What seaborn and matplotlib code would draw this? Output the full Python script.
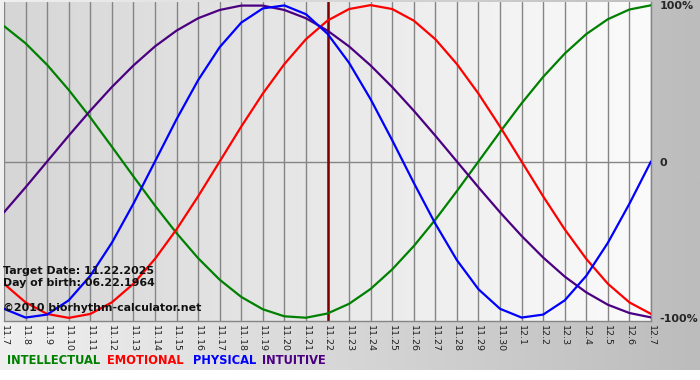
import matplotlib
matplotlib.use("Agg")
import matplotlib.pyplot as plt
from matplotlib.colors import LinearSegmentedColormap
import numpy as np
import pandas as pd
import seaborn as sns

sns.set_style("white")
plt.rcParams["font.family"] = ["DejaVu Sans"]

# day labels, 11.7 .. 12.7
days = ["11.7", "11.8", "11.9", "11.10", "11.11", "11.12", "11.13", "11.14",
        "11.15", "11.16", "11.17", "11.18", "11.19", "11.20", "11.21", "11.22",
        "11.23", "11.24", "11.25", "11.26", "11.27", "11.28", "11.29", "11.30",
        "12.1", "12.2", "12.3", "12.4", "12.5", "12.6", "12.7"]
target_day = "11.22"

# values, one per day
intellectual = [0.866, 0.756, 0.618, 0.458, 0.282, 0.095, -0.095, -0.282,
                -0.458, -0.618, -0.756, -0.866, -0.945, -0.990, -0.999, -0.972,
                -0.910, -0.815, -0.690, -0.541, -0.372, -0.189, 0.0, 0.189,
                0.372, 0.541, 0.690, 0.815, 0.910, 0.972, 0.999]
emotional = [-0.782, -0.901, -0.975, -1.0, -0.975, -0.901, -0.782, -0.623,
             -0.434, -0.223, 0.0, 0.223, 0.434, 0.623, 0.782, 0.901,
             0.975, 1.0, 0.975, 0.901, 0.782, 0.623, 0.434, 0.223,
             0.0, -0.223, -0.434, -0.623, -0.782, -0.901, -0.975]
physical = [-0.942, -0.998, -0.979, -0.888, -0.731, -0.520, -0.270, 0.0,
            0.270, 0.520, 0.731, 0.888, 0.979, 0.998, 0.942, 0.817,
            0.631, 0.398, 0.136, -0.136, -0.398, -0.631, -0.817, -0.942,
            -0.998, -0.979, -0.888, -0.731, -0.520, -0.270, 0.0]
intuitive = [-0.325, -0.165, 0.0, 0.165, 0.325, 0.476, 0.614, 0.736,
             0.837, 0.916, 0.969, 0.997, 0.997, 0.969, 0.916, 0.837,
             0.736, 0.614, 0.476, 0.325, 0.165, 0.0, -0.165, -0.325,
             -0.476, -0.614, -0.736, -0.837, -0.916, -0.969, -0.997]

rhythms = ["INTELLECTUAL", "EMOTIONAL", "INTUITIVE", "PHYSICAL"]
colors = {"INTELLECTUAL": "#008000", "EMOTIONAL": "#ff0000",
          "PHYSICAL": "#0000ff", "INTUITIVE": "#4b0082"}

series = {"INTELLECTUAL": intellectual, "EMOTIONAL": emotional,
          "PHYSICAL": physical, "INTUITIVE": intuitive}
df = pd.concat([
    pd.DataFrame({"pos": range(len(days)), "value": series[r], "rhythm": r})
    for r in rhythms
], ignore_index=True)

fig = plt.figure(figsize=(7, 3.8), dpi=100)

# grey gradient behind everything
bg = fig.add_axes([0, 10 / 380, 1, 370 / 380], zorder=-2)
bg.imshow(np.linspace(0, 1, 256).reshape(1, -1), aspect="auto",
          cmap=LinearSegmentedColormap.from_list("bg", ["#f0f0f0", "#bcbcbc"]))
bg.set_axis_off()

ax = fig.add_axes([4 / 700, 59 / 380, 647 / 700, 319 / 380])
n = len(days) - 1
ax.imshow(np.linspace(0, 1, 256).reshape(1, -1), aspect="auto",
          extent=[0, n, -1.02, 1.02], zorder=0,
          cmap=LinearSegmentedColormap.from_list("pa", ["#d6d6d6", "#fbfbfb"]))

for i in range(len(days)):
    ax.axvline(i, color="#858585", lw=1, zorder=1)
ax.axhline(0, color="#858585", lw=1, zorder=1)
ax.axvline(days.index(target_day), color="#800000", lw=1.8, zorder=2)

sns.lineplot(data=df, x="pos", y="value", hue="rhythm", palette=colors,
             hue_order=rhythms, sort=False, lw=1.6, legend=False, ax=ax, zorder=3)

ax.set_xlim(0, n)
ax.set_ylim(-1.02, 1.02)
ax.set_xlabel("")
ax.set_ylabel("")
ax.set_xticks(range(len(days)))
ax.set_xticklabels(days, rotation=270, fontsize=6.8, color="#222222")
ax.tick_params(axis="x", length=0, pad=3)
ax.yaxis.tick_right()
ax.set_yticks([-1, 0, 1])
ax.set_yticklabels(["-100%", "0", "100%"], fontsize=8, fontweight="bold")
ax.tick_params(axis="y", length=0, pad=6)
for side in ["top", "left"]:
    ax.spines[side].set_visible(False)
for side in ["bottom", "right"]:
    ax.spines[side].set_color("#858585")
    ax.spines[side].set_linewidth(1)

# info text over the chart
info = ["Target Date: 11.22.2025", "Day of birth: 06.22.1964", "",
        "\u00a92010 biorhythm-calculator.net"]
fig.text(3 / 700, 1 - 266 / 380, "\n".join(info), fontsize=7.9,
         fontweight="bold", va="top", ha="left", linespacing=1.3, color="#111111")

# coloured legend words
legend_x = [7, 107, 193, 262]
for name, x in zip(["INTELLECTUAL", "EMOTIONAL", "PHYSICAL", "INTUITIVE"], legend_x):
    fig.text(x / 700, 1 - 361 / 380, name, color=colors[name], fontsize=8.3,
             fontweight="bold", va="center", ha="left")

fig.savefig("out.png", dpi=100)
